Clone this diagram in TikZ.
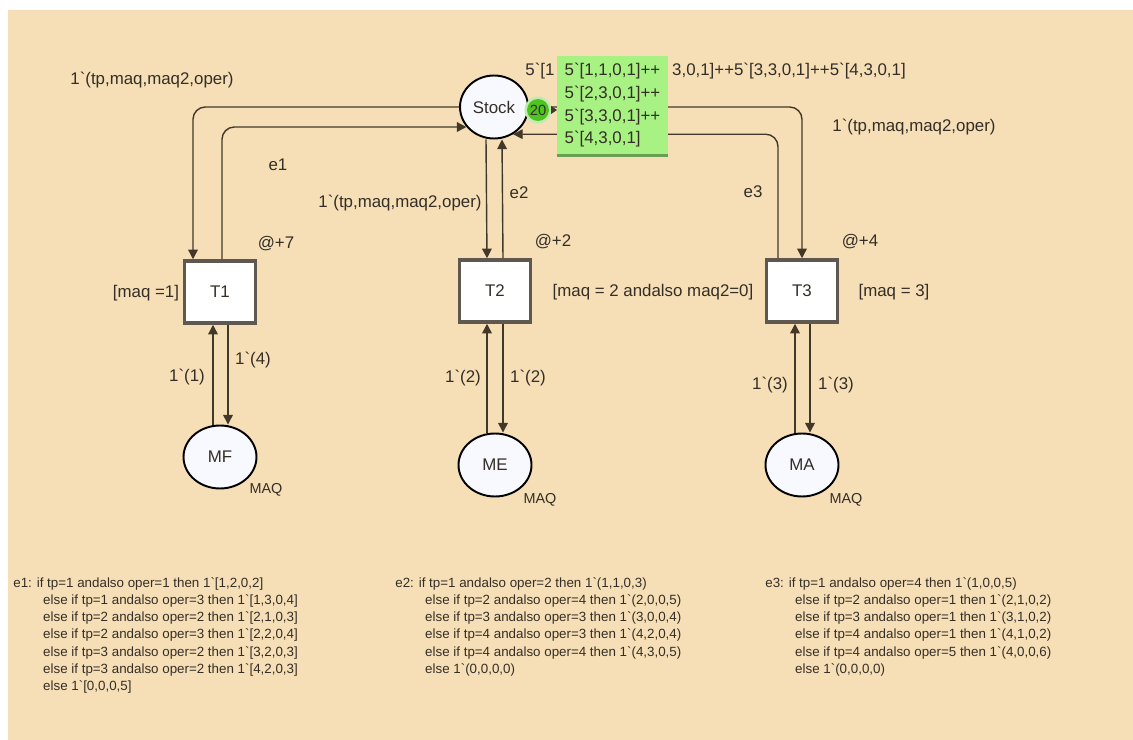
\documentclass[tikz,border=0pt]{standalone}
\usepackage{fontspec}
\setmainfont{Liberation Sans}
\usetikzlibrary{arrows.meta, calc, shapes.geometric}
\definecolor{cpnback}{RGB}{246,223,183}
\definecolor{arcbrown}{RGB}{66,56,42}
\definecolor{inkgray}{RGB}{52,46,38}
\definecolor{transgray}{RGB}{95,88,80}
\definecolor{placewhite}{RGB}{248,248,255}
\definecolor{tokengreen}{RGB}{168,242,132}
\definecolor{tokendark}{RGB}{78,196,30}
\newcommand{\diagfont}{\fontsize{9.6}{11}\selectfont}
\newcommand{\codefont}{\fontsize{7.6}{9.8}\selectfont}
\newcommand{\tick}{\textasciigrave}

\begin{document}
\begin{tikzpicture}[x=0.02cm, y=-0.02cm,
  place/.style={ellipse, draw=black, line width=1.1pt, fill=placewhite, inner sep=0pt,
                minimum width=1.46cm, minimum height=1.26cm, font=\diagfont, text=inkgray},
  trans/.style={rectangle, draw=transgray, line width=2pt, fill=white,
                minimum width=1.42cm, minimum height=1.24cm, font=\diagfont, text=inkgray},
  arc/.style={-{Triangle[length=5.5pt,width=5.5pt]}, line width=0.8pt, arcbrown, rounded corners=7pt},
  lbl/.style={font=\diagfont, text=inkgray, inner sep=0pt},
  code/.style={font=\codefont, text=inkgray, align=left, inner sep=0pt, anchor=north west}
]
  \fill[white] (0,0) rectangle (1133,740);
  \fill[cpnback] (8,10) rectangle (1133,740);
  \useasboundingbox (0,0) rectangle (1133,740);

  \node[place, minimum width=1.36cm] (Stock) at (494,107) {Stock};
  \node[place] (MF) at (220,457) {MF};
  \node[place] (ME) at (495,465) {ME};
  \node[place] (MA) at (802,465) {MA};
  \node[trans] (T1) at (220,292) {T1};
  \node[trans] (T2) at (495,291) {T2};
  \node[trans] (T3) at (802,291) {T3};

  \draw[arc] (Stock.west) -| ($(T1.north)+(-27,0)$);
  \draw[arc] ($(T1.north)+(2,0)$) |- (Stock.216);
  \draw[arc] ($(Stock.south)+(-8,0)$) -- ($(T2.north)+(-8,0)$);
  \draw[arc] ($(T2.north)+(8,0)$) -- ($(Stock.south)+(8,0)$);
  \draw[arc] (Stock.east) -| (T3.north);
  \draw[arc] ($(T3.north)+(-24,0)$) |- (Stock.305);

  \draw[arc] ($(MF.north)+(-7,0)$) -- ($(T1.south)+(-7,0)$);
  \draw[arc] ($(T1.south)+(8,0)$) -- ($(MF.north)+(8,0)$);
  \draw[arc] ($(ME.north)+(-8,0)$) -- ($(T2.south)+(-8,0)$);
  \draw[arc] ($(T2.south)+(8,0)$) -- ($(ME.north)+(8,0)$);
  \draw[arc] ($(MA.north)+(-7,0)$) -- ($(T3.south)+(-7,0)$);
  \draw[arc] ($(T3.south)+(8,0)$) -- ($(MA.north)+(8,0)$);

  \node[lbl] (inS1) at (152,80) {1\tick(tp,maq,maq2,oper)};
  \node[lbl] (outS1) at (278,165) {e1};
  \node[lbl] (inS2) at (400,203) {1\tick(tp,maq,maq2,oper)};
  \node[lbl] (outS2) at (519,193) {e2};
  \node[lbl] (outS3) at (753,192) {e3};
  \node[lbl] (inS3) at (914,127) {1\tick(tp,maq,maq2,oper)};
  \node[lbl] (delay1) at (276,244) {@+7};
  \node[lbl] (delay2) at (553,242) {@+2};
  \node[lbl] (delay3) at (860,242) {@+4};
  \node[lbl] (guard1) at (146,293) {[maq =1]};
  \node[lbl] (guard2) at (653,292) {[maq = 2 andalso maq2=0]};
  \node[lbl] (guard3) at (894,292) {[maq = 3]};
  \node[lbl] (inM1) at (187,377) {1\tick(1)};
  \node[lbl] (outM1) at (253,360) {1\tick(4)};
  \node[lbl] (inM2) at (463,378) {1\tick(2)};
  \node[lbl] (outM2) at (528,378) {1\tick(2)};
  \node[lbl] (inM3) at (770,385) {1\tick(3)};
  \node[lbl] (outM3) at (836,385) {1\tick(3)};
  \node[lbl, font=\fontsize{8.2}{9}\selectfont] (colMF) at (266,490) {MAQ};
  \node[lbl, font=\fontsize{8.2}{9}\selectfont] (colME) at (540,500) {MAQ};
  \node[lbl, font=\fontsize{8.2}{9}\selectfont] (colMA) at (846,500) {MAQ};

  \node[rectangle, fill=tokengreen, minimum width=2.22cm, minimum height=1.98cm,
        align=left, font=\fontsize{9.6}{12.9}\selectfont, text=inkgray, inner sep=0pt] (mark) at (612.5,105.5)
    {5\tick[1,1,0,1]++\\5\tick[2,3,0,1]++\\5\tick[3,3,0,1]++\\5\tick[4,3,0,1]};
  \draw[tokendark!45!gray, line width=1.6pt] (mark.south west) -- (mark.south east);
  \node[lbl, anchor=base east] (markhead) at ([xshift=-1pt]mark.west |- 0,76) {5\tick[1};
  \node[lbl, anchor=base west] (marktail) at ([xshift=2pt]mark.east |- 0,76) {3,0,1]++5\tick[3,3,0,1]++5\tick[4,3,0,1]};
  \node[circle, fill=tokendark!35, minimum size=0.54cm, inner sep=0pt] (glow) at (538,110) {};
  \node[circle, fill=tokendark, minimum size=0.44cm, inner sep=0pt,
        font=\fontsize{8.4}{9}\selectfont, text=inkgray] (count) at (538,110) {20};
  \fill[arcbrown] (551,106) -- (557,110) -- (551,114) -- cycle;

  \node[code] (e1code) at (13,577) {e1: if tp=1 andalso oper=1 then 1\tick[1,2,0,2]\\
    \hspace*{17pt}else if tp=1 andalso oper=3 then 1\tick[1,3,0,4]\\
    \hspace*{17pt}else if tp=2 andalso oper=2 then 1\tick[2,1,0,3]\\
    \hspace*{17pt}else if tp=2 andalso oper=3 then 1\tick[2,2,0,4]\\
    \hspace*{17pt}else if tp=3 andalso oper=2 then 1\tick[3,2,0,3]\\
    \hspace*{17pt}else if tp=3 andalso oper=2 then 1\tick[4,2,0,3]\\
    \hspace*{17pt}else 1\tick[0,0,0,5]};
  \node[code] (e2code) at (395,577) {e2: if tp=1 andalso oper=2 then 1\tick(1,1,0,3)\\
    \hspace*{17pt}else if tp=2 andalso oper=4 then 1\tick(2,0,0,5)\\
    \hspace*{17pt}else if tp=3 andalso oper=3 then 1\tick(3,0,0,4)\\
    \hspace*{17pt}else if tp=4 andalso oper=3 then 1\tick(4,2,0,4)\\
    \hspace*{17pt}else if tp=4 andalso oper=4 then 1\tick(4,3,0,5)\\
    \hspace*{17pt}else 1\tick(0,0,0,0)};
  \node[code] (e3code) at (765,577) {e3: if tp=1 andalso oper=4 then 1\tick(1,0,0,5)\\
    \hspace*{17pt}else if tp=2 andalso oper=1 then 1\tick(2,1,0,2)\\
    \hspace*{17pt}else if tp=3 andalso oper=1 then 1\tick(3,1,0,2)\\
    \hspace*{17pt}else if tp=4 andalso oper=1 then 1\tick(4,1,0,2)\\
    \hspace*{17pt}else if tp=4 andalso oper=5 then 1\tick(4,0,0,6)\\
    \hspace*{17pt}else 1\tick(0,0,0,0)};
\end{tikzpicture}
\end{document}
